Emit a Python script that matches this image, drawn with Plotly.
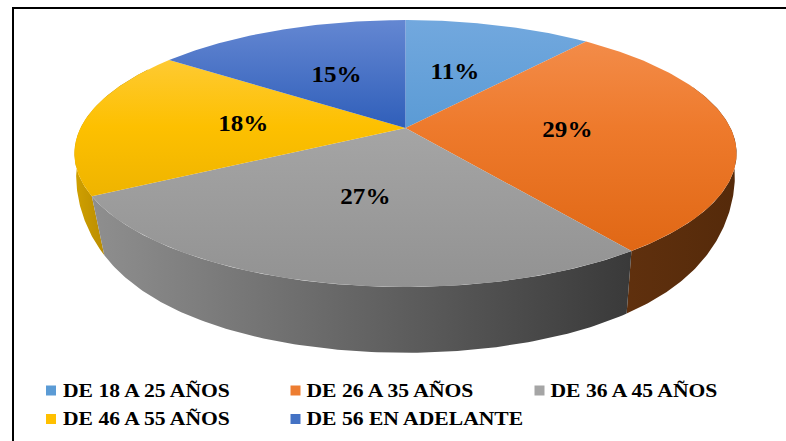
import numpy as np
import plotly.graph_objects as go

categories = ["DE 18 A 25 AÑOS", "DE 26 A 35 AÑOS", "DE 36 A 45 AÑOS", "DE 46 A 55 AÑOS", "DE 56 EN ADELANTE"]
values = [11, 29, 27, 18, 15]
colors = ["#5B9BD5", "#ED7D31", "#A5A5A5", "#FFC000", "#4472C4"]
top_light = ["#72A8DE", "#F49050", "#B6B6B6", "#FFD050", "#6487D2"]
top_mid = ["#5B9BD5", "#EE7A2C", "#A5A5A5", "#FDC000", "#305FBA"]
top_dark = ["#4A8ACB", "#DC620E", "#929292", "#DCA400", "#2A55A8"]
side_left = [None, "#663410", "#8F8F8F", "#D0A000", None]
side_right = [None, "#552A0A", "#383838", "#B98C00", None]

CX, CY, A, C, B = 405.5, 128, 128.6, 325, 0.191
CY2, A2, B2 = 185, 130, 0.225
H = 441


def top_pt(theta, r=1.0):
    u, v = r * np.sin(theta), r * np.cos(theta)
    d = 1 + B * v
    return CX + C * u / d, H - (CY - A * v / d)


def low_pt(theta):
    u, v = np.sin(theta), np.cos(theta)
    return CX + (329 + 10.4 * v + 85 * v * v) * u, H - (CY2 - A2 * v / (1 + B2 * v))


cum = np.cumsum([0] + values) / sum(values) * 2 * np.pi
fig = go.Figure()

grad_x = {1: (560, 737), 2: (90, 640), 3: (75, 105)}
for i, t0, t1 in [(3, cum[3], np.radians(300)), (1, np.radians(70), cum[2]), (2, cum[2], cum[3])]:
    th = np.linspace(t0, t1, 120)
    xt, yt = top_pt(th)
    xl, yl = low_pt(th)
    fig.add_trace(go.Scatter(
        x=np.r_[xt, xl[::-1]], y=np.r_[yt, yl[::-1]], mode="lines", fill="toself",
        line=dict(width=0), hoverinfo="skip", showlegend=False,
        fillgradient=dict(type="horizontal", start=grad_x[i][0], stop=grad_x[i][1],
                          colorscale=[[0, side_left[i]], [1, side_right[i]]]),
    ))

for i in range(len(values)):
    th = np.linspace(cum[i], cum[i + 1], 100)
    x, y = top_pt(th)
    fig.add_trace(go.Scatter(
        x=np.r_[CX, x, CX], y=np.r_[H - CY, y, H - CY], mode="lines", fill="toself",
        line=dict(width=0), name=categories[i], showlegend=False,
        fillgradient=dict(type="vertical", start=H - 287, stop=H - 20,
                          colorscale=[[0, top_dark[i]], [0.6, top_mid[i]], [1, top_light[i]]]),
    ))

mid = (cum[:-1] + cum[1:]) / 2
lx, ly = top_pt(mid, 0.5)
fig.add_trace(go.Scatter(
    x=lx - 1, y=ly - 1, mode="text", text=[f"{v}%" for v in values], hoverinfo="skip", showlegend=False,
    textfont=dict(family="Liberation Serif", size=23, color="#000000", weight="bold"),
))

mark_x = [51, 295.5, 539.5, 51, 295.5]
text_x = [63, 306.5, 550.5, 63, 306.5]
leg_y = [390.5, 390.5, 390.5, 419, 419]
for i in range(len(values)):
    fig.add_trace(go.Scatter(
        x=[mark_x[i]], y=[H - leg_y[i]], mode="markers", showlegend=False, hoverinfo="skip",
        marker=dict(symbol="square", size=10, color=colors[i]),
    ))
    fig.add_trace(go.Scatter(
        x=[text_x[i]], y=[H - leg_y[i] - 1.5], mode="text", text=[categories[i]],
        textposition="middle right", showlegend=False, hoverinfo="skip",
        textfont=dict(family="Liberation Serif", size=18, color="#000000", weight="bold"),
    ))

fig.update_layout(
    width=786, height=441, margin=dict(l=0, r=0, t=0, b=0),
    paper_bgcolor="white", plot_bgcolor="white", showlegend=False,
    xaxis=dict(range=[0, 786], visible=False, fixedrange=True),
    yaxis=dict(range=[0, 441], visible=False, fixedrange=True),
    shapes=[
        dict(type="line", xref="paper", yref="paper", x0=12 / 786, x1=1, y0=1 - 8 / 441, y1=1 - 8 / 441,
             line=dict(color="black", width=2)),
        dict(type="line", xref="paper", yref="paper", x0=13 / 786, x1=13 / 786, y0=0, y1=1 - 7 / 441,
             line=dict(color="black", width=2)),
    ],
)
post = """
document.body.style.margin='0';document.body.style.overflow='hidden';
document.querySelectorAll('.textpoint text').forEach(function(t){
  var f = t.textContent.endsWith('%') ? 1.09 : 1.2;
  var w = t.getComputedTextLength();
  t.setAttribute('lengthAdjust','spacingAndGlyphs');
  t.setAttribute('textLength', String(w*f));
});
"""
fig.write_html("out.html", config={"displayModeBar": False}, post_script=post)
